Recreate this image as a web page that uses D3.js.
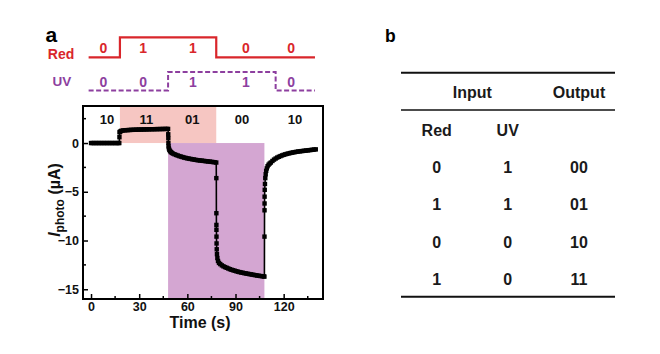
<!DOCTYPE html>
<html>
<head>
<meta charset="utf-8">
<script src="https://cdn.jsdelivr.net/npm/d3@7"></script>
<style>
  html, body { margin: 0; padding: 0; background: #fff; }
  svg { display: block; font-family: "Liberation Sans", Arial, sans-serif; font-weight: bold; }
</style>
</head>
<body>
<svg id="chart" width="660" height="354"></svg>
<script>
// ---------------- DATA ----------------
// Photocurrent trace (time in s, current in µA)
const timeS = [
  0,1,2,3,4,5,6,7,8,9,10,11,12,13,14,15,16,17,17.6,17.7,
  17.8,18,18.5,19,20,21,22,23,24,25,26,27,28,29,30,31,32,33,34,35,36,37,38,39,40,41,42,43,44,45,46,47,48,
  48.1,48.15,48.2,48.3,48.5,48.8,49.2,49.7,50.3,51,52,53,54,55,56,57,58,59,60,61,62,63,64,65,66,67,68,69,70,71,72,73,74,75,76,77,78,
  78.05,78.08,78.1,78.12,78.15,78.2,78.3,78.45,78.7,79.1,79.7,80.5,81.5,82.5,83.5,84.5,85.5,86.5,87.5,88.5,89.5,90.5,91.5,92.5,93.5,94.5,95.5,96.5,97.5,98.5,99.5,100.5,101.5,102.5,103.5,104.5,105.5,106.5,107.5,108,
  108.05,108.08,108.1,108.12,108.2,108.35,108.55,108.8,109.1,109.5,110,110.6,111.3,112,113,114,115,116,117,118,119,120,121,122,123,124,125,126,127,128,129,130,131,132,133,134,135,136,137,138,139,140
];
const currentUA = [
  0,0,0,0,0,0,0,0,0,0,0,0,0,0,0,0,0,0,0,0.6,
  1.1,1.15,1.22,1.26,1.29,1.31,1.32,1.33,1.34,1.35,1.355,1.36,1.37,1.375,1.38,1.385,1.39,1.395,1.4,1.405,1.41,1.415,1.42,1.42,1.425,1.43,1.43,1.435,1.44,1.44,1.445,1.45,1.45,
  0.9,0.5,0.0,-0.35,-0.55,-0.7,-0.82,-0.92,-1.0,-1.08,-1.15,-1.22,-1.28,-1.34,-1.39,-1.44,-1.49,-1.53,-1.57,-1.6,-1.63,-1.66,-1.69,-1.72,-1.75,-1.77,-1.79,-1.81,-1.83,-1.85,-1.87,-1.89,-1.91,-1.93,-1.95,-1.97,-2.0,
  -3.6,-7.2,-8.4,-8.9,-9.6,-10.3,-10.9,-11.4,-11.8,-12.1,-12.3,-12.42,-12.55,-12.65,-12.73,-12.8,-12.87,-12.94,-13.0,-13.05,-13.1,-13.15,-13.2,-13.24,-13.28,-13.31,-13.35,-13.38,-13.41,-13.44,-13.47,-13.5,-13.53,-13.56,-13.59,-13.62,-13.64,-13.66,-13.68,-13.7,
  -9.6,-6.9,-6.2,-5.5,-4.8,-4.2,-3.6,-3.2,-2.85,-2.6,-2.38,-2.22,-2.1,-2.0,-1.84,-1.7,-1.59,-1.49,-1.41,-1.34,-1.27,-1.21,-1.16,-1.11,-1.07,-1.03,-0.99,-0.96,-0.93,-0.9,-0.87,-0.85,-0.83,-0.81,-0.79,-0.77,-0.75,-0.73,-0.71,-0.69,-0.67,-0.65
];

// Illumination windows (s)
const redWindow = [18, 78];     // pink shading, above 0
const uvWindow  = [48, 108];    // purple shading, below 0

// Output code labels inside plot
const outputCodes = ["10", "11", "01", "00", "10"];
const outputTimes = [10, 34.5, 63, 94, 127];

// Input signal traces (time, level)
const redSignalT = [-1.5, 18, 18, 78, 78, 139.5];
const redSignalL = [0, 0, 1, 1, 0, 0];
const uvSignalT  = [-1.5, 48, 48, 115, 115, 139.5];
const uvSignalL  = [0, 0, 1, 1, 0, 0];
const redBits = ["0", "1", "1", "0", "0"];
const uvBits  = ["0", "0", "1", "1", "0"];
const bitTimes = [7.7, 32.5, 63.5, 96.5, 124.7];

// Axes
const xTicks = [0, 30, 60, 90, 120];
const xMinorTicks = [15, 45, 75, 105, 135];
const yTicks = [0, -5, -10, -15];
const yMinorTicks = [2.5, -2.5, -7.5, -12.5];

// Truth table
const tableHeader = ["Input", "Output"];
const tableSubHeader = ["Red", "UV"];
const tableRed = ["0", "1", "0", "1"];
const tableUV  = ["1", "1", "0", "0"];
const tableOut = ["00", "01", "10", "11"];

// ---------------- DRAW ----------------
const svg = d3.select("#chart");
const RED = "#d9262b", PURPLE = "#8d3f9f";
const PINK_FILL = "#f6c6c2", PURPLE_FILL = "#d4a6d2";

const plot = { left: 83, right: 323, top: 106, bottom: 299 };
const x = d3.scaleLinear().domain([-5, 144.5]).range([plot.left, plot.right]);
const y = d3.scaleLinear().domain([-16, 3.8]).range([plot.bottom, plot.top]);

// shading
svg.append("rect")
  .attr("x", x(redWindow[0])).attr("y", y(3.8))
  .attr("width", x(redWindow[1]) - x(redWindow[0]))
  .attr("height", y(0) - y(3.8))
  .attr("fill", PINK_FILL);
svg.append("rect")
  .attr("x", x(uvWindow[0])).attr("y", y(0))
  .attr("width", x(uvWindow[1]) - x(uvWindow[0]))
  .attr("height", y(-16) - y(0))
  .attr("fill", PURPLE_FILL);

// axes (ticks inward)
const xAxis = d3.axisBottom(x).tickValues(xTicks).tickSize(-5).tickPadding(3).tickFormat(d3.format("d"));
const gx = svg.append("g").attr("transform", `translate(0,${plot.bottom})`).call(xAxis);
gx.select(".domain").remove();
gx.selectAll("text").attr("font-size", 12.5).attr("font-weight", "bold").attr("fill", "#111")
  .attr("font-family", "Liberation Sans, Arial, sans-serif").attr("dy", "0.72em").attr("y", 2.5);
gx.selectAll("line").attr("stroke", "#000").attr("stroke-width", 1.5);
svg.append("g").attr("transform", `translate(0,${plot.bottom})`)
  .selectAll("line").data(xMinorTicks).join("line")
  .attr("x1", d => x(d)).attr("x2", d => x(d)).attr("y1", 0).attr("y2", -3)
  .attr("stroke", "#000").attr("stroke-width", 1.5);

const yAxis = d3.axisLeft(y).tickValues(yTicks).tickSize(-5).tickPadding(4).tickFormat(d3.format("d"));
const gy = svg.append("g").attr("transform", `translate(${plot.left},0)`).call(yAxis);
gy.select(".domain").remove();
gy.selectAll("text").attr("font-size", 12.5).attr("font-weight", "bold").attr("fill", "#111")
  .attr("font-family", "Liberation Sans, Arial, sans-serif").attr("x", -4);
gy.selectAll("line").attr("stroke", "#000").attr("stroke-width", 1.5);
svg.append("g").attr("transform", `translate(${plot.left},0)`)
  .selectAll("line").data(yMinorTicks).join("line")
  .attr("y1", d => y(d)).attr("y2", d => y(d)).attr("x1", 0).attr("x2", 3)
  .attr("stroke", "#000").attr("stroke-width", 1.5);

// data line + markers
const pts = timeS.map((t, i) => [t, currentUA[i]]);
svg.append("path").datum(pts)
  .attr("d", d3.line().x(d => x(d[0])).y(d => y(d[1])))
  .attr("fill", "none").attr("stroke", "#000").attr("stroke-width", 1.6);
const ms = 4.4;
svg.append("g").selectAll("rect").data(pts).join("rect")
  .attr("x", d => x(d[0]) - ms / 2).attr("y", d => y(d[1]) - ms / 2)
  .attr("width", ms).attr("height", ms).attr("fill", "#000");

// frame
svg.append("rect")
  .attr("x", plot.left).attr("y", plot.top)
  .attr("width", plot.right - plot.left).attr("height", plot.bottom - plot.top)
  .attr("fill", "none").attr("stroke", "#000").attr("stroke-width", 2);

// output codes
svg.append("g").selectAll("text").data(outputCodes).join("text")
  .attr("x", (d, i) => x(outputTimes[i])).attr("y", 123.5)
  .attr("text-anchor", "middle").attr("font-size", 13).attr("fill", "#111")
  .text(d => d);

// axis titles
svg.append("text").attr("x", 200).attr("y", 328).attr("text-anchor", "middle")
  .attr("font-size", 16).attr("fill", "#111").text("Time (s)");
const yt = svg.append("text").attr("transform", "translate(60,200) rotate(-90)")
  .attr("text-anchor", "middle").attr("font-size", 16).attr("fill", "#111");
yt.append("tspan").attr("font-style", "italic").text("I");
yt.append("tspan").attr("font-size", 12).attr("dy", 4).text("photo");
yt.append("tspan").attr("dy", -4).text(" (\u00b5A)");

// signal panel
const yRed = d3.scaleLinear().domain([0, 1]).range([57.3, 37.3]);
const yUV  = d3.scaleLinear().domain([0, 1]).range([90.5, 72]);
svg.append("path").datum(redSignalT.map((t, i) => [t, redSignalL[i]]))
  .attr("d", d3.line().x(d => x(d[0])).y(d => yRed(d[1])))
  .attr("fill", "none").attr("stroke", RED).attr("stroke-width", 2.2);
svg.append("path").datum(uvSignalT.map((t, i) => [t, uvSignalL[i]]))
  .attr("d", d3.line().x(d => x(d[0])).y(d => yUV(d[1])))
  .attr("fill", "none").attr("stroke", PURPLE).attr("stroke-width", 2)
  .attr("stroke-dasharray", "5,2.5");
svg.append("g").selectAll("text").data(redBits).join("text")
  .attr("x", (d, i) => x(bitTimes[i])).attr("y", 53.3)
  .attr("text-anchor", "middle").attr("font-size", 14).attr("fill", RED).text(d => d);
svg.append("g").selectAll("text").data(uvBits).join("text")
  .attr("x", (d, i) => x(bitTimes[i])).attr("y", 86.5)
  .attr("text-anchor", "middle").attr("font-size", 14).attr("fill", PURPLE).text(d => d);
svg.append("text").attr("x", 61).attr("y", 59.3).attr("text-anchor", "middle")
  .attr("font-size", 14).attr("fill", RED).text("Red");
svg.append("text").attr("x", 62).attr("y", 85.5).attr("text-anchor", "middle")
  .attr("font-size", 13.5).attr("fill", PURPLE).text("UV");
svg.append("text").attr("x", 45.5).attr("y", 41.5).attr("font-size", 21).attr("fill", "#000").text("a");

// ---------------- TABLE b ----------------
svg.append("text").attr("x", 385).attr("y", 42.3).attr("font-size", 17.5).attr("fill", "#000").text("b");
const tx0 = 401, tx1 = 615;
const rules = [[72.7, 2], [110, 1.6], [296.7, 2]];
svg.append("g").selectAll("line").data(rules).join("line")
  .attr("x1", tx0).attr("x2", tx1).attr("y1", d => d[0]).attr("y2", d => d[0])
  .attr("stroke", "#111").attr("stroke-width", d => d[1]);
const colX = [436.7, 507.7, 579];
const tcol = "#1a1a1a";
svg.append("text").attr("x", 472.3).attr("y", 98).attr("text-anchor", "middle")
  .attr("font-size", 16).attr("fill", tcol).text(tableHeader[0]);
svg.append("text").attr("x", colX[2]).attr("y", 98).attr("text-anchor", "middle")
  .attr("font-size", 16).attr("fill", tcol).text(tableHeader[1]);
svg.append("g").selectAll("text").data(tableSubHeader).join("text")
  .attr("x", (d, i) => colX[i]).attr("y", 135.8).attr("text-anchor", "middle")
  .attr("font-size", 16).attr("fill", tcol).text(d => d);
const rowY = [172.5, 210, 247.5, 285];
[tableRed, tableUV, tableOut].forEach((col, c) => {
  svg.append("g").selectAll("text").data(col).join("text")
    .attr("x", colX[c]).attr("y", (d, i) => rowY[i]).attr("text-anchor", "middle")
    .attr("font-size", 16).attr("fill", tcol).text(d => d);
});
</script>
</body>
</html>
